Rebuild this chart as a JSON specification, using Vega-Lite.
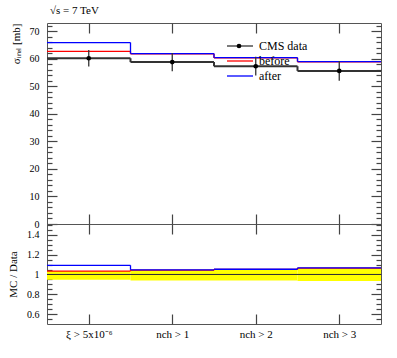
{
  "$schema": "https://vega.github.io/schema/vega-lite/v6.json",
  "padding": {"left": 7, "top": 4, "right": 5, "bottom": 5},
  "spacing": 0,
  "bounds": "flush",
  "config": {
    "font": "Liberation Serif",
    "view": {"stroke": "#555", "strokeWidth": 1},
    "axis": {"domainOpacity": 0, "grid": false, "ticks": true, "tickColor": "#444", "tickWidth": 1.2, "labelFont": "Liberation Serif", "labelFontSize": 10, "labelColor": "#000", "titleFont": "Liberation Serif", "titleFontWeight": "normal", "titleFontSize": 11, "titleColor": "#000"},
    "legend": {"labelFont": "Liberation Serif", "labelFontSize": 12, "labelColor": "#000"}
  },
  "datasets": {
    "bins": [
      {"cat": "ξ > 5x10⁻⁶", "lo": 0, "hi": 1, "mid": 0.5, "data": 60.2, "err": 3.0, "before": 62.7, "after": 65.9, "r_before": 1.035, "r_after": 1.093, "band_lo": 0.947, "band_hi": 1.035},
      {"cat": "nch > 1", "lo": 1, "hi": 2, "mid": 1.5, "data": 58.8, "err": 3.3, "before": 61.8, "after": 61.9, "r_before": 1.044, "r_after": 1.047, "band_lo": 0.94, "band_hi": 1.045},
      {"cat": "nch > 2", "lo": 2, "hi": 3, "mid": 2.5, "data": 57.3, "err": 3.4, "before": 60.3, "after": 60.4, "r_before": 1.051, "r_after": 1.053, "band_lo": 0.94, "band_hi": 1.05},
      {"cat": "nch > 3", "lo": 3, "hi": 4, "mid": 3.5, "data": 55.6, "err": 3.6, "before": 58.9, "after": 59.0, "r_before": 1.064, "r_after": 1.067, "band_lo": 0.935, "band_hi": 1.065}
    ]
  },
  "vconcat": [
    {
      "width": 334,
      "height": 201,
      "title": {"text": "√s = 7 TeV", "anchor": "start", "frame": "group", "fontSize": 11, "fontWeight": "normal", "font": "Liberation Serif", "offset": 6, "dx": 3},
      "data": {"name": "bins"},
      "layer": [
        {
          "transform": [{"fold": ["data", "before", "after"], "as": ["key", "val"]}],
          "mark": {"type": "rule"},
          "encoding": {
            "x": {"field": "lo", "type": "quantitative", "scale": {"domain": [0, 4], "nice": false},
              "axis": {"orient": "bottom", "values": [0.5, 1.5, 2.5, 3.5], "labels": false, "title": null, "tickSize": 10, "offset": -10}},
            "x2": {"field": "hi"},
            "y": {"field": "val", "type": "quantitative", "scale": {"domain": [0, 73], "nice": false},
              "axis": {"orient": "left", "values": [0,10,20,30,40,50,60,70], "tickSize": 10, "offset": -10, "labelPadding": 8,
                "title": "σᵢₙₑₗ [mb]", "titleAnchor": "end", "titlePadding": 8}},
            "color": {"field": "key", "type": "nominal", "scale": {"domain": ["data", "before", "after"], "range": ["#333333", "#ff0000", "#0000ff"]},
              "legend": {"orient": "none", "legendX": 187, "legendY": 17, "title": null, "symbolType": "M-2.6,0H2.6", "symbolSize": 100, "symbolStrokeWidth": 1.3, "labelOffset": 13, "rowPadding": 3,
                "labelExpr": "datum.label === 'data' ? 'CMS data' : datum.label"}},
            "strokeWidth": {"condition": {"test": "datum.key === 'data'", "value": 2}, "value": 1.3}
          }
        },
        {
          "transform": [
            {"fold": ["data", "before", "after"], "as": ["key", "val"]},
            {"window": [{"op": "lag", "field": "val", "as": "prev"}], "groupby": ["key"], "sort": [{"field": "lo"}]},
            {"filter": "datum.prev != null"}
          ],
          "mark": {"type": "rule"},
          "encoding": {
            "x": {"field": "lo", "type": "quantitative",
              "axis": {"orient": "top", "values": [0.5, 1.5, 2.5, 3.5], "labels": false, "title": null, "tickSize": 10, "offset": -10}},
            "y": {"field": "val", "type": "quantitative",
              "axis": {"orient": "right", "values": [0,10,20,30,40,50,60,70], "labels": false, "title": null, "tickSize": 10, "offset": -10}},
            "y2": {"field": "prev"},
            "color": {"field": "key", "type": "nominal", "legend": null},
            "strokeWidth": {"condition": {"test": "datum.key === 'data'", "value": 2}, "value": 1.3}
          }
        },
        {
          "mark": {"type": "errorbar", "color": "#333333", "thickness": 1.3},
          "encoding": {
            "x": {"field": "mid", "type": "quantitative", "axis": null},
            "y": {"field": "data", "type": "quantitative",
              "axis": {"orient": "left", "values": [2,4,6,8,12,14,16,18,22,24,26,28,32,34,36,38,42,44,46,48,52,54,56,58,62,64,66,68,72], "labels": false, "title": null, "tickSize": 5, "offset": -5}},
            "yError": {"field": "err"}
          }
        },
        {
          "mark": {"type": "point", "filled": true, "size": 22, "opacity": 1},
          "encoding": {
            "x": {"field": "mid", "type": "quantitative", "axis": null},
            "y": {"field": "data", "type": "quantitative",
              "axis": {"orient": "right", "values": [2,4,6,8,12,14,16,18,22,24,26,28,32,34,36,38,42,44,46,48,52,54,56,58,62,64,66,68,72], "labels": false, "title": null, "tickSize": 5, "offset": -5}},
            "color": {"value": "#000000"},
            "shape": {"datum": "CMS data", "type": "nominal",
              "legend": {"orient": "none", "legendX": 186, "legendY": 17, "title": null, "symbolSize": 22, "symbolFillColor": "#000", "symbolStrokeColor": "#000", "labelExpr": "''"}}
          }
        }
      ],
      "resolve": {"axis": {"x": "independent", "y": "independent"}}
    },
    {
      "width": 334,
      "height": 100,
      "data": {"name": "bins"},
      "layer": [
        {
          "mark": {"type": "rect", "color": "#ffff00"},
          "encoding": {
            "x": {"field": "lo", "type": "quantitative", "scale": {"domain": [0, 4], "nice": false},
              "axis": {"orient": "bottom", "values": [0.5, 1.5, 2.5, 3.5], "labelPadding": 4, "labelFontSize": 11, "title": null, "tickSize": 10, "offset": -10,
                "labelExpr": "['ξ > 5x10⁻⁶', 'nch > 1', 'nch > 2', 'nch > 3'][floor(datum.value)]"}},
            "x2": {"field": "hi"},
            "y": {"field": "band_lo", "type": "quantitative", "scale": {"domain": [0.5, 1.51], "nice": false, "zero": false},
              "axis": {"orient": "left", "values": [0.6, 0.8, 1.0, 1.2, 1.4], "format": "~g", "tickSize": 10, "offset": -10,
                "labelPadding": 8, "title": "MC / Data", "titlePadding": 8}},
            "y2": {"field": "band_hi"}
          }
        },
        {
          "mark": {"type": "rule", "color": "#333333", "strokeWidth": 1},
          "encoding": {"y": {"datum": 1, "type": "quantitative",
            "axis": {"orient": "left", "values": [0.55,0.65,0.7,0.75,0.85,0.9,0.95,1.05,1.1,1.15,1.25,1.3,1.35,1.45,1.5], "labels": false, "title": null, "tickSize": 5, "offset": -5}}}
        },
        {
          "transform": [{"fold": ["r_before", "r_after"], "as": ["key", "val"]}],
          "mark": {"type": "rule", "strokeWidth": 1.3},
          "encoding": {
            "x": {"field": "lo", "type": "quantitative",
              "axis": {"orient": "top", "values": [0.5, 1.5, 2.5, 3.5], "labels": false, "title": null, "tickSize": 10, "offset": -10}},
            "x2": {"field": "hi"},
            "y": {"field": "val", "type": "quantitative",
              "axis": {"orient": "right", "values": [0.6, 0.8, 1.0, 1.2, 1.4], "labels": false, "title": null, "tickSize": 10, "offset": -10}},
            "color": {"condition": {"test": "datum.key === 'r_after'", "value": "#0000ff"}, "value": "#ff0000"}
          }
        },
        {
          "transform": [
            {"fold": ["r_before", "r_after"], "as": ["key", "val"]},
            {"window": [{"op": "lag", "field": "val", "as": "prev"}], "groupby": ["key"], "sort": [{"field": "lo"}]},
            {"filter": "datum.prev != null"}
          ],
          "mark": {"type": "rule", "strokeWidth": 1.3},
          "encoding": {
            "x": {"field": "lo", "type": "quantitative", "axis": null},
            "y": {"field": "val", "type": "quantitative",
              "axis": {"orient": "right", "values": [0.55,0.65,0.7,0.75,0.85,0.9,0.95,1.05,1.1,1.15,1.25,1.3,1.35,1.45,1.5], "labels": false, "title": null, "tickSize": 5, "offset": -5}},
            "y2": {"field": "prev"},
            "color": {"condition": {"test": "datum.key === 'r_after'", "value": "#0000ff"}, "value": "#ff0000"}
          }
        }
      ],
      "resolve": {"axis": {"x": "independent", "y": "independent"}}
    }
  ]
}
